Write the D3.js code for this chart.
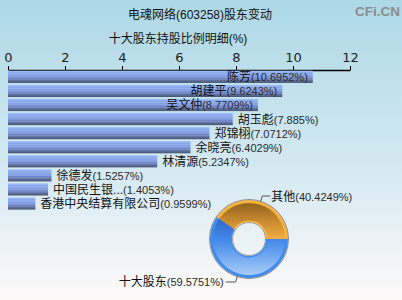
<!DOCTYPE html>
<html>
<head>
<meta charset="utf-8">
<script src="https://cdn.jsdelivr.net/npm/d3@7"></script>
<style>
  body { margin: 0; padding: 0; }
  svg { display: block; }
</style>
</head>
<body>
<div id="chart"></div>
<script>
// data
var holderNames = ["陈芳", "胡建平", "吴文仲", "胡玉彪", "郑锦栩", "余晓亮", "林清源", "徐德发", "中国民生银...", "香港中央结算有限公司"];
var holderValues = [10.6952, 9.6243, 8.7709, 7.885, 7.0712, 6.4029, 5.2347, 1.5257, 1.4053, 0.9599];
var axisTicks = [0, 2, 4, 6, 8, 10, 12];
var pieNames = ["十大股东", "其他"];
var pieValues = [59.5751, 40.4249];

var w = 402, h = 300;
var cjk = "'Liberation Sans', Arial, 'Noto Sans CJK SC', sans-serif";

var svg = d3.select("#chart").append("svg")
    .attr("width", w)
    .attr("height", h);

var defs = svg.append("defs");

// background
var bg = defs.append("linearGradient").attr("id", "bg")
    .attr("x1", 0).attr("y1", 0).attr("x2", 0).attr("y2", 1);
bg.append("stop").attr("offset", "0").attr("stop-color", "#add8e6");
bg.append("stop").attr("offset", "0.55").attr("stop-color", "#d3e9f1");
bg.append("stop").attr("offset", "1").attr("stop-color", "#fdf9f9");
svg.append("rect").attr("width", w).attr("height", h).attr("fill", "url(#bg)");

// striped bar fill
var barGrad = defs.append("linearGradient").attr("id", "barGrad")
    .attr("x1", 0).attr("y1", 0).attr("x2", 0).attr("y2", 1);
[["0", "#a6c3f6"], ["0.12", "#93b3f2"], ["0.2", "#86a6ec"], ["0.3", "#97b2ee"],
 ["0.4", "#7f9be2"], ["0.5", "#8ea6e4"], ["0.6", "#7086c8"], ["0.7", "#7a8ec4"],
 ["0.8", "#5e6f9c"], ["0.9", "#55638a"], ["1", "#48546e"]].forEach(function(s) {
  barGrad.append("stop").attr("offset", s[0]).attr("stop-color", s[1]);
});

// title
svg.append("text")
    .attr("x", 200).attr("y", 19)
    .attr("text-anchor", "middle")
    .attr("font-family", cjk).attr("font-size", "12px").attr("fill", "#111")
    .text("电魂网络(603258)股东变动");

svg.append("text")
    .attr("x", 178).attr("y", 43)
    .attr("text-anchor", "middle")
    .attr("font-family", cjk).attr("font-size", "12px").attr("fill", "#111")
    .text("十大股东持股比例明细(%)");

svg.append("text")
    .attr("x", 355).attr("y", 16)
    .attr("font-family", "'Liberation Sans', Arial, sans-serif")
    .attr("font-weight", "bold")
    .attr("font-size", "13.5px").attr("fill", "#8c8c8c")
    .text("CFi.CN");

// scales
var x = d3.scaleLinear().domain([0, 12]).range([8, 350]);
var y = d3.scaleBand().domain(holderNames).range([70.7, 209.6]).paddingInner(0.13).paddingOuter(0);

// axis on top
var axis = svg.append("g")
    .attr("transform", "translate(0,70)")
    .call(d3.axisTop(x).tickValues(axisTicks).tickSize(4).tickSizeOuter(0).tickPadding(4));
axis.select(".domain").attr("stroke", "#000").attr("stroke-width", 1.5);
axis.selectAll(".tick line").attr("stroke", "#000");
axis.selectAll(".tick text")
    .attr("font-family", "'DejaVu Sans', sans-serif")
    .attr("font-size", "13px").attr("fill", "#222");

// bars
svg.selectAll("rect.bar")
    .data(holderValues)
    .enter()
    .append("rect")
    .attr("class", "bar")
    .attr("x", x(0))
    .attr("y", function(d, i) { return y(holderNames[i]); })
    .attr("width", function(d) { return x(d) - x(0); })
    .attr("height", y.bandwidth())
    .attr("fill", "url(#barGrad)");

// labels: long bars get the label inside, short ones after the bar
var labels = svg.selectAll("text.lbl")
    .data(holderValues)
    .enter()
    .append("text")
    .attr("class", "lbl")
    .attr("font-family", cjk)
    .attr("fill", "#111")
    .attr("x", function(d) { return d > 8.5 ? x(d) - 5 : x(d) + 5; })
    .attr("y", function(d, i) { return y(holderNames[i]) + y.bandwidth() / 2 + 4.5; })
    .attr("text-anchor", function(d) { return d > 8.5 ? "end" : "start"; });
labels.append("tspan").attr("font-size", "12px").text(function(d, i) { return holderNames[i]; });
labels.append("tspan").attr("font-size", "11px").attr("fill", "#2a2a2a")
    .text(function(d) { return "(" + d + "%)"; });

// donut
var cx = 249, cy = 239;
var pie = d3.pie().sort(null).startAngle(Math.PI / 2).endAngle(Math.PI / 2 + 2 * Math.PI);
var arcs = pie(pieValues);

// gradients in the donut group's local coords
var orGrad = defs.append("linearGradient").attr("id", "orGrad")
    .attr("gradientUnits", "userSpaceOnUse")
    .attr("x1", 0).attr("y1", -36).attr("x2", 0).attr("y2", 0);
orGrad.append("stop").attr("offset", "0").attr("stop-color", "#94621c");
orGrad.append("stop").attr("offset", "0.5").attr("stop-color", "#c88a30");
orGrad.append("stop").attr("offset", "1").attr("stop-color", "#f2ae42");

var blGrad = defs.append("linearGradient").attr("id", "blGrad")
    .attr("gradientUnits", "userSpaceOnUse")
    .attr("x1", 0).attr("y1", -24).attr("x2", 0).attr("y2", 38);
blGrad.append("stop").attr("offset", "0").attr("stop-color", "#2c64c4");
blGrad.append("stop").attr("offset", "0.4").attr("stop-color", "#4388ea");
blGrad.append("stop").attr("offset", "1").attr("stop-color", "#acd0f8");

var rimColors = ["#3f8cf0", "#f6b23c"];
var fills = ["url(#blGrad)", "url(#orGrad)"];

var pg = svg.append("g").attr("transform", "translate(" + cx + "," + cy + ")");

var rimArc = d3.arc().innerRadius(17).outerRadius(39);
var bodyArc = d3.arc().innerRadius(18.5).outerRadius(36);

pg.selectAll("path.rim").data(arcs).enter().append("path")
    .attr("class", "rim").attr("d", rimArc)
    .attr("fill", function(d, i) { return rimColors[i]; });
pg.selectAll("path.body").data(arcs).enter().append("path")
    .attr("class", "body").attr("d", bodyArc)
    .attr("fill", function(d, i) { return fills[i]; });
pg.append("circle").attr("r", 39.5).attr("fill", "none").attr("stroke", "#8a8a8a").attr("stroke-width", 1);
pg.append("circle").attr("r", 16.5).attr("fill", "none").attr("stroke", "#9a9a9a").attr("stroke-width", 1);

// leader lines and pie labels
var edge = d3.arc().innerRadius(39).outerRadius(39);
var outer = d3.arc().innerRadius(45).outerRadius(45);
arcs.forEach(function(a, i) {
  var p1 = edge.centroid(a), p2 = outer.centroid(a);
  var right = p2[0] > 0;
  var p3 = [p2[0] + (right ? 8 : -10), p2[1]];
  pg.append("polyline")
      .attr("points", [p1, p2, p3].map(function(p) { return p.join(","); }).join(" "))
      .attr("fill", "none").attr("stroke", "#555").attr("stroke-width", 1);
  var t = pg.append("text")
      .attr("x", p3[0] + (right ? 1 : -2))
      .attr("y", p3[1] + 4.5)
      .attr("text-anchor", right ? "start" : "end")
      .attr("font-family", cjk).attr("fill", "#111");
  t.append("tspan").attr("font-size", "12px").text(pieNames[i]);
  t.append("tspan").attr("font-size", "11px").attr("fill", "#2a2a2a").text("(" + pieValues[i] + "%)");
});
</script>
</body>
</html>
